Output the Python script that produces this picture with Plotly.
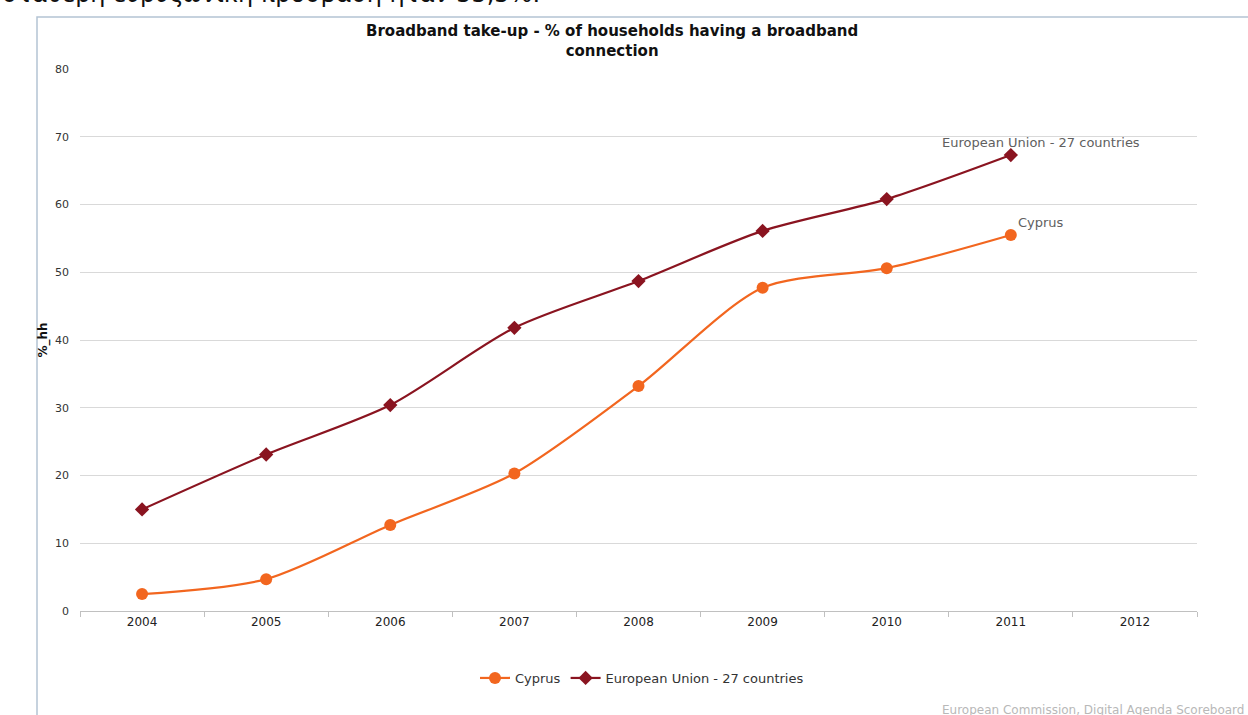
import plotly.graph_objects as go

years = ["2004", "2005", "2006", "2007", "2008", "2009", "2010", "2011", "2012"]
cyprus_years = ["2004", "2005", "2006", "2007", "2008", "2009", "2010", "2011"]
cyprus = [2.5, 4.7, 12.7, 20.3, 33.2, 47.7, 50.6, 55.5]
eu27 = [15.0, 23.1, 30.4, 41.8, 48.7, 56.1, 60.8, 67.3]
y_ticks = [0, 10, 20, 30, 40, 50, 60, 70, 80]

W, H = 1248, 715
L, R, T, B = 80, 51, 69, 104
pw, ph = W - L - R, H - T - B

def px(x):
    return (x - L) / pw

def py(y):
    return (H - B - y) / ph

CY = "#f2661f"
EU = "#8a1420"
FONT = "DejaVu Sans"
last = len(cyprus_years) - 1

fig = go.Figure()
fig.add_trace(go.Scatter(
    x=cyprus_years, y=cyprus, name="Cyprus", mode="lines+markers",
    line=dict(color=CY, width=2.2, shape="spline", smoothing=0.8),
    marker=dict(symbol="circle", size=12, color=CY),
))
fig.add_trace(go.Scatter(
    x=cyprus_years, y=eu27, name="European Union - 27 countries", mode="lines+markers",
    line=dict(color=EU, width=2.2, shape="spline", smoothing=0.8),
    marker=dict(symbol="diamond", size=11, color=EU),
))

annotations = [
    dict(text="<b>Broadband take-up - % of households having a broadband<br>connection</b>",
         x=px(612), y=py(20), xref="paper", yref="paper", xanchor="center", yanchor="top",
         showarrow=False, font=dict(family=FONT, size=15, color="#111"), align="center"),
    dict(text="σταθερή ευρυζωνική πρόσβαση ήταν 55,5%.",
         x=px(0), y=py(10), xref="paper", yref="paper", xanchor="left", yanchor="bottom",
         showarrow=False, font=dict(family="DejaVu Sans", size=24, color="#111")),
    dict(text="European Commission, Digital Agenda Scoreboard",
         x=px(1246), y=py(701), xref="paper", yref="paper", xanchor="right", yanchor="top",
         showarrow=False, font=dict(family=FONT, size=12, color="#b8b8b8")),
    dict(text="European Union - 27 countries",
         x=last, y=eu27[last], xref="x", yref="y", xanchor="center", yanchor="bottom",
         xshift=30, yshift=3, showarrow=False, font=dict(family=FONT, size=13, color="#606060")),
    dict(text="Cyprus",
         x=last, y=cyprus[last], xref="x", yref="y", xanchor="left", yanchor="bottom",
         xshift=5, yshift=3, showarrow=False, font=dict(family=FONT, size=13, color="#606060")),
]

fig.update_layout(
    width=W, height=H,
    margin=dict(l=L, r=R, t=T, b=B),
    paper_bgcolor="white", plot_bgcolor="white",
    font=dict(family=FONT, size=11, color="#333"),
    showlegend=True,
    legend=dict(orientation="h", x=px(642), y=py(678), xanchor="center", yanchor="middle",
                font=dict(family=FONT, size=13, color="#333"), itemwidth=30),
    annotations=annotations,
    shapes=[dict(type="rect", xref="paper", yref="paper",
                 x0=px(37), x1=px(1262), y0=py(17), y1=py(730),
                 line=dict(color="#b4c4d4", width=1.5), layer="below")],
    xaxis=dict(type="category", categoryorder="array", categoryarray=years,
               tickvals=years, ticktext=years, range=[-0.5, 8.5],
               tickson="boundaries", ticks="outside", ticklen=5, tickcolor="#c0c0c0",
               showline=True, linecolor="#c0c0c0", linewidth=1, showgrid=False,
               tickfont=dict(family=FONT, size=12, color="#222"), fixedrange=True),
    yaxis=dict(range=[0, 80], tickvals=y_ticks, showgrid=True, gridcolor="#d9d9d9",
               zeroline=False, showline=False,
               ticks="", ticklabelstandoff=10,
               tickfont=dict(family=FONT, size=11, color="#333"),
               title=dict(text="<b>%_hh</b>", font=dict(family=FONT, size=12, color="#111"),
                          standoff=4)),
)

fig.write_html("out.html", config={"displayModeBar": False},
               post_script="document.body.style.margin='0';document.body.style.overflow='hidden';")
